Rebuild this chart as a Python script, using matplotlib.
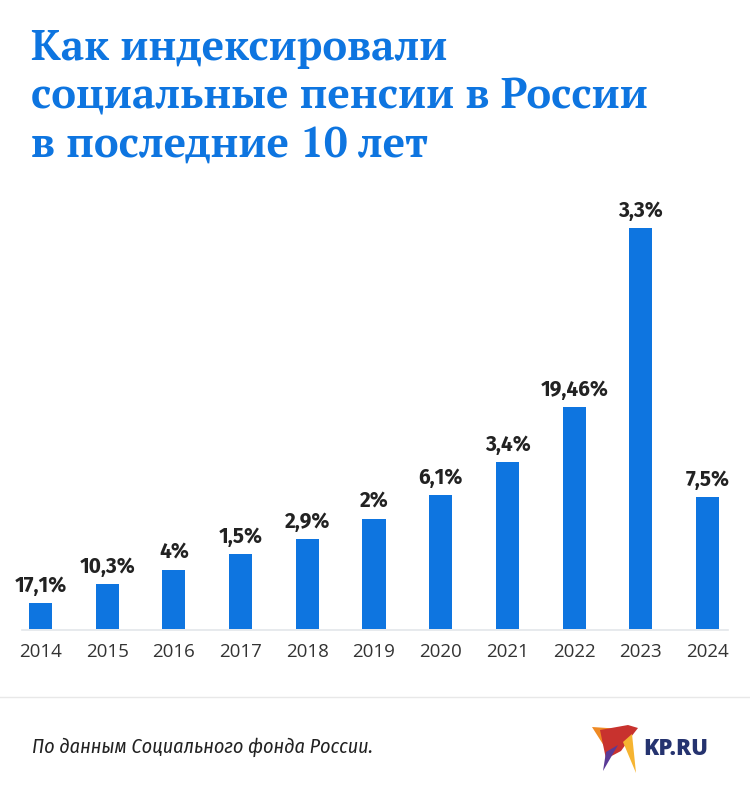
import matplotlib
matplotlib.use("Agg")
import matplotlib.pyplot as plt
from matplotlib.patches import Polygon
from matplotlib.lines import Line2D

# ---- data ----
years = ["2014", "2015", "2016", "2017", "2018", "2019", "2020", "2021", "2022", "2023", "2024"]
bar_heights = [26, 45, 59, 75, 90, 110, 134, 167, 222, 401, 132]   # bar heights as drawn (arbitrary units)
value_labels = ["17,1%", "10,3%", "4%", "1,5%", "2,9%", "2%", "6,1%", "3,4%", "19,46%", "3,3%", "7,5%"]
title_lines = ["Как индексировали", "социальные пенсии в России", "в последние 10 лет"]
source = "По данным Социального фонда России."

W, H = 750, 797
BLUE = "#0e75e0"
fig = plt.figure(figsize=(W / 100, H / 100), dpi=100)
fig.patch.set_facecolor("white")

def fx(px):
    return px / W

def fy(py):
    return 1 - py / H

# title
for i, line in enumerate(title_lines):
    fig.text(fx(31), fy(60 + 48.5 * i), line, fontsize=30.2, fontweight="bold",
             family="PT Serif", color=BLUE, va="baseline", ha="left")

# axes: x from 7 to 741 px, y baseline 629 px, top 228 px
ax = fig.add_axes([fx(7), fy(629), fx(741) - fx(7), fy(228) - fy(629)])
x = list(range(len(years)))
bars = ax.bar(x, bar_heights, width=0.345, color=BLUE, zorder=3)
ax.set_xlim(-0.5, len(years) - 0.5)
ax.set_ylim(0, max(bar_heights))
for b, lab in zip(bars, value_labels):
    ax.annotate(lab, (b.get_x() + b.get_width() / 2, b.get_height()), xytext=(0, 5),
                textcoords="offset points", ha="center", va="bottom", fontsize=15,
                fontweight="bold", family="Fira Sans", color="#222222", clip_on=False)
ax.set_xticks(x)
ax.set_xticklabels(years, fontsize=13.5, family="Open Sans", color="#333333")
ax.tick_params(axis="x", length=0, pad=10)
ax.set_yticks([])
for s in ax.spines.values():
    s.set_visible(False)
ax.set_facecolor("none")

# baseline
fig.add_artist(Line2D([fx(22), fx(728)], [fy(629.5), fy(629.5)], color="#e3e6ea", lw=1.2))

# footer separator
fig.add_artist(Line2D([0, 1], [fy(697), fy(697)], color="#e8e8e8", lw=1))

# source
fig.text(fx(32), fy(753), source, fontsize=14.5, style="italic", family="Fira Sans Condensed",
         color="#222222", va="baseline", ha="left")

# logo
bird = [
    ([(592, 727), (622, 729), (613, 743), (606, 749)], "#ef8a24"),
    ([(600, 730), (628, 725), (638, 728), (631, 737), (621, 751), (606, 759)], "#c8322e"),
    ([(606, 752), (618, 745), (603, 771)], "#5a3a96"),
    ([(623, 742), (632, 734), (636, 773)], "#f6b431"),
]
for pts, col in bird:
    fig.add_artist(Polygon([(fx(a), fy(b)) for a, b in pts], closed=True, transform=fig.transFigure,
                           facecolor=col, edgecolor="none"))
fig.text(fx(643), fy(755), "KP.RU", fontsize=16, fontweight=800, family="Open Sans",
         color="#25336f", va="baseline", ha="left")

fig.savefig("out.png", dpi=100, facecolor="white")
